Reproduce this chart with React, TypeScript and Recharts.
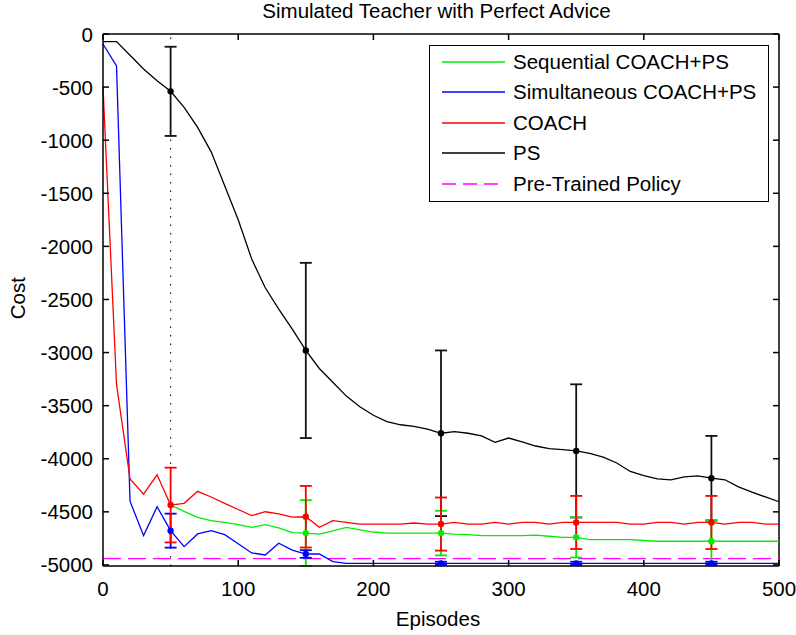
import {
  ComposedChart,
  Line,
  Scatter,
  ErrorBar,
  XAxis,
  YAxis,
  ReferenceLine,
  Legend,
} from 'recharts'

const FONT = '"Liberation Sans", Arial, sans-serif'

// episodes sampled every 10 steps
const episodes = [
  0, 10, 20, 30, 40, 50, 60, 70, 80, 90, 100, 110, 120, 130, 140, 150, 160,
  170, 180, 190, 200, 210, 220, 230, 240, 250, 260, 270, 280, 290, 300, 310,
  320, 330, 340, 350, 360, 370, 380, 390, 400, 410, 420, 430, 440, 450, 460,
  470, 480, 490, 500,
]

const psCost = [
  -72, -72, -200, -330, -440, -540, -690, -880, -1110, -1430, -1750, -2120,
  -2390, -2590, -2780, -2980, -3150, -3280, -3410, -3510, -3590, -3650, -3680,
  -3695, -3720, -3760, -3745, -3760, -3785, -3845, -3805, -3840, -3880, -3905,
  -3915, -3926, -3950, -3985, -4040, -4120, -4160, -4190, -4198, -4170, -4162,
  -4183, -4198, -4265, -4315, -4360, -4405,
]

const coachCost = [
  -500, -3300, -4190, -4333, -4151, -4436, -4420, -4307, -4360, -4420, -4478,
  -4536, -4499, -4520, -4550, -4546, -4646, -4583, -4600, -4615, -4615, -4615,
  -4615, -4605, -4615, -4615, -4600, -4615, -4615, -4600, -4615, -4600, -4600,
  -4615, -4600, -4600, -4600, -4600, -4600, -4615, -4615, -4600, -4600, -4615,
  -4600, -4600, -4615, -4600, -4600, -4615, -4615,
]

const seqCost = [
  null, null, null, null, null, -4436, -4495, -4552, -4583, -4600, -4620,
  -4646, -4621, -4650, -4695, -4700, -4709, -4680, -4646, -4670, -4690, -4700,
  -4700, -4700, -4700, -4700, -4710, -4715, -4724, -4724, -4724, -4724, -4720,
  -4730, -4740, -4740, -4762, -4762, -4762, -4762, -4770, -4777, -4777, -4777,
  -4777, -4777, -4777, -4777, -4777, -4777, -4777,
]

const simCost = [
  -94, -300, -4400, -4724, -4452, -4677, -4828, -4708, -4677, -4715, -4800,
  -4887, -4906, -4796, -4860, -4897, -4897, -4969, -4985, -4985, -4985, -4985,
  -4985, -4985, -4985, -4985, -4985, -4985, -4985, -4985, -4985, -4985, -4985,
  -4985, -4985, -4985, -4985, -4985, -4985, -4985, -4985, -4985, -4985, -4985,
  -4985, -4985, -4985, -4985, -4985, -4985, -4985,
]

const pretrainedCost = -4940

// error bars every 100 episodes
const errEpisodes = [50, 150, 250, 350, 450]
const psSpread = [420, 825, 780, 627, 398]
const coachSpread = [352, 290, 250, 250, 250]
const seqSpread = [null, 310, 210, 190, 195]
const simSpread = [160, 36, 15, 15, 15]

const xTicks = [0, 100, 200, 300, 400, 500]
const yTicks = [
  0, -500, -1000, -1500, -2000, -2500, -3000, -3500, -4000, -4500, -5000,
]

const rows = episodes.map((ep, i) => ({
  ep,
  ps: psCost[i],
  coach: coachCost[i],
  seq: seqCost[i],
  sim: simCost[i],
  pre: pretrainedCost,
}))

const errPoints = (values: (number | null)[], spread: (number | null)[]) =>
  errEpisodes
    .map((ep, i) => ({
      ep,
      cost: values[episodes.indexOf(ep)],
      err: spread[i],
    }))
    .filter((p) => p.cost !== null && p.err !== null)

const legendItems = [
  { name: 'Sequential COACH+PS', color: '#00ee00', dash: undefined },
  { name: 'Simultaneous COACH+PS', color: '#0000ff', dash: undefined },
  { name: 'COACH', color: '#ff0000', dash: undefined },
  { name: 'PS', color: '#000000', dash: undefined },
  { name: 'Pre-Trained Policy', color: '#ff00ff', dash: '14 7' },
]

const renderLegend = () => (
  <div
    style={{
      width: 340,
      height: 157,
      border: '1.5px solid #000',
      background: '#fff',
      boxSizing: 'border-box',
      position: 'relative',
      fontFamily: FONT,
    }}>
    {legendItems.map((item, i) => (
      <div
        key={item.name}
        style={{
          position: 'absolute',
          left: 0,
          top: 1 + i * 30.4,
          height: 30,
          display: 'flex',
          alignItems: 'center',
        }}>
        <svg width={83} height={30}>
          <line
            x1={12}
            x2={75}
            y1={15}
            y2={15}
            stroke={item.color}
            strokeWidth={1.3}
            strokeDasharray={item.dash}
          />
        </svg>
        <span style={{ fontSize: 20.5, color: '#000', whiteSpace: 'nowrap' }}>
          {item.name}
        </span>
      </div>
    ))}
  </div>
)

const dot = (color: string) => (p: any) =>
  <circle cx={p.cx} cy={p.cy} r={3.2} fill={color} />

// chart frame layout
const CHART_W = 796
const CHART_H = 635
const MARGIN = { top: 34, right: 17, bottom: 0, left: 0 }
const PLOT_TOP = MARGIN.top
const PLOT_RIGHT = CHART_W - MARGIN.right

// tick marks point into the plot and are mirrored onto the opposite edge
const TICK_LEN = 6
const tickMark = (x1: number, y1: number, x2: number, y2: number) => (
  <path
    d={`M${x1},${y1}L${x2},${y2}`}
    stroke='#000'
    strokeWidth={1.5}
    fill='none'
  />
)

const leftTick = (p: any) => {
  const { x, y, payload } = p
  return (
    <g>
      {tickMark(x, y, x + TICK_LEN, y)}
      {tickMark(PLOT_RIGHT, y, PLOT_RIGHT - TICK_LEN, y)}
      <text
        x={x - 10}
        y={y}
        textAnchor='end'
        dominantBaseline='central'
        fontSize={20.5}
        fontFamily={FONT}
        fill='#000'>
        {payload.value}
      </text>
    </g>
  )
}

const bottomTick = (p: any) => {
  const { x, y, payload } = p
  return (
    <g>
      {tickMark(x, y, x, y - TICK_LEN)}
      {tickMark(x, PLOT_TOP, x, PLOT_TOP + TICK_LEN)}
      <text
        x={x}
        y={y + 22}
        textAnchor='middle'
        dominantBaseline='central'
        fontSize={20.5}
        fontFamily={FONT}
        fill='#000'>
        {payload.value}
      </text>
    </g>
  )
}

const axisLine = { stroke: '#000', strokeWidth: 1.5 }

export default function App() {
  return (
    <div
      style={{
        position: 'absolute',
        left: 0,
        top: 0,
        width: CHART_W,
        height: CHART_H,
        background: '#fff',
        fontFamily: FONT,
      }}>
      <div
        style={{
          position: 'absolute',
          left: 0,
          top: 1,
          width: 873,
          textAlign: 'center',
          fontSize: 20.5,
          lineHeight: '20.5px',
          whiteSpace: 'nowrap',
        }}>
        Simulated Teacher with Perfect Advice
      </div>
      <div
        style={{
          position: 'absolute',
          left: 17.5 - 50,
          top: 298 - 10.25,
          width: 100,
          height: 20.5,
          textAlign: 'center',
          fontSize: 20.5,
          lineHeight: '20.5px',
          transform: 'rotate(-90deg)',
        }}>
        Cost
      </div>
      <div
        style={{
          position: 'absolute',
          left: 0,
          top: 609,
          width: 876,
          textAlign: 'center',
          fontSize: 20.5,
          lineHeight: '20.5px',
        }}>
        Episodes
      </div>
      <ComposedChart
        width={CHART_W}
        height={CHART_H}
        data={rows}
        margin={MARGIN}>
        <XAxis
          dataKey='ep'
          type='number'
          domain={[0, 500]}
          ticks={xTicks}
          height={69}
          tickSize={0}
          tickMargin={0}
          tickLine={false}
          tick={bottomTick}
          axisLine={axisLine}
          interval={0}
        />
        <YAxis
          type='number'
          domain={[-5000, 0]}
          ticks={yTicks}
          width={103}
          tickSize={0}
          tickMargin={0}
          tickLine={false}
          tick={leftTick}
          axisLine={axisLine}
          interval={0}
        />
        {/* top and right edges of the box */}
        <ReferenceLine y={0} stroke='#000' strokeWidth={1.5} />
        <ReferenceLine x={500} stroke='#000' strokeWidth={1.5} />
        <ReferenceLine
          x={50}
          stroke='#222'
          strokeWidth={1.2}
          strokeDasharray='1.5 7'
        />
        <Line
          dataKey='pre'
          stroke='#ff00ff'
          strokeWidth={1.3}
          strokeDasharray='18 7'
          dot={false}
          isAnimationActive={false}
        />
        <Line
          dataKey='ps'
          stroke='#000'
          strokeWidth={1.3}
          dot={false}
          isAnimationActive={false}
        />
        <Line
          dataKey='seq'
          stroke='#00ee00'
          strokeWidth={1.3}
          dot={false}
          isAnimationActive={false}
        />
        <Line
          dataKey='sim'
          stroke='#0000ff'
          strokeWidth={1.3}
          dot={false}
          isAnimationActive={false}
        />
        <Line
          dataKey='coach'
          stroke='#ff0000'
          strokeWidth={1.3}
          dot={false}
          isAnimationActive={false}
        />
        <Scatter
          data={errPoints(psCost, psSpread)}
          dataKey='cost'
          legendType='none'
          shape={dot('#000')}
          isAnimationActive={false}>
          <ErrorBar
            dataKey='err'
            direction='y'
            width={6}
            stroke='#111'
            strokeWidth={1.8}
            isAnimationActive={false}
          />
        </Scatter>
        <Scatter
          data={errPoints(seqCost, seqSpread)}
          dataKey='cost'
          legendType='none'
          shape={dot('#00ee00')}
          isAnimationActive={false}>
          <ErrorBar
            dataKey='err'
            direction='y'
            width={6}
            stroke='#00ee00'
            strokeWidth={1.8}
            isAnimationActive={false}
          />
        </Scatter>
        <Scatter
          data={errPoints(simCost, simSpread)}
          dataKey='cost'
          legendType='none'
          shape={dot('#0000ff')}
          isAnimationActive={false}>
          <ErrorBar
            dataKey='err'
            direction='y'
            width={6}
            stroke='#0000ff'
            strokeWidth={1.8}
            isAnimationActive={false}
          />
        </Scatter>
        <Scatter
          data={errPoints(coachCost, coachSpread)}
          dataKey='cost'
          legendType='none'
          shape={dot('#ff0000')}
          isAnimationActive={false}>
          <ErrorBar
            dataKey='err'
            direction='y'
            width={6}
            stroke='#ff0000'
            strokeWidth={1.8}
            isAnimationActive={false}
          />
        </Scatter>
        <Legend
          layout='horizontal'
          align='center'
          verticalAlign='middle'
          width={340}
          wrapperStyle={{ top: 45, left: 429, width: 340 }}
          content={renderLegend}
        />
      </ComposedChart>
    </div>
  )
}
